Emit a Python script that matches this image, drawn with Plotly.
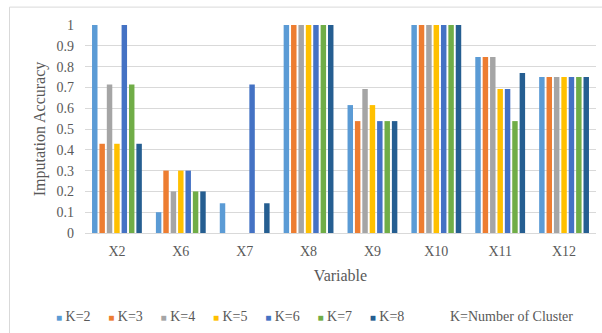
import plotly.graph_objects as go

variables = ["X2", "X6", "X7", "X8", "X9", "X10", "X11", "X12"]
series_names = ["K=2", "K=3", "K=4", "K=5", "K=6", "K=7", "K=8"]
k2 = [1.0, 0.10, 0.143, 1.0, 0.615, 1.0, 0.846, 0.75]
k3 = [0.429, 0.30, 0.0, 1.0, 0.538, 1.0, 0.846, 0.75]
k4 = [0.714, 0.20, 0.0, 1.0, 0.692, 1.0, 0.846, 0.75]
k5 = [0.429, 0.30, 0.0, 1.0, 0.615, 1.0, 0.692, 0.75]
k6 = [1.0, 0.30, 0.714, 1.0, 0.538, 1.0, 0.692, 0.75]
k7 = [0.714, 0.20, 0.0, 1.0, 0.538, 1.0, 0.538, 0.75]
k8 = [0.429, 0.20, 0.143, 1.0, 0.538, 1.0, 0.769, 0.75]
series_values = [k2, k3, k4, k5, k6, k7, k8]
colors = ["#5B9BD5", "#ED7D31", "#A5A5A5", "#FFC000", "#4472C4", "#70AD47", "#255E91"]
y_ticks = [0, 0.1, 0.2, 0.3, 0.4, 0.5, 0.6, 0.7, 0.8, 0.9, 1]
y_tick_labels = ["0", "0.1", "0.2", "0.3", "0.4", "0.5", "0.6", "0.7", "0.8", "0.9", "1"]

FONT = "Times New Roman, Liberation Serif, serif"
TXT = "#595959"

fig = go.Figure()
for name, vals, col in zip(series_names, series_values, colors):
    fig.add_trace(go.Bar(x=variables, y=vals, name=name, marker=dict(color=col, line=dict(width=0)),
                         showlegend=False))
    # legend-only entry: coloured square glyph followed by the series name
    label = f'<span style="color:{col};font-size:10px">■</span> {name}'
    fig.add_trace(go.Scatter(x=[None], y=[None], mode="markers", name=label,
                             marker=dict(size=1, color="rgba(0,0,0,0)"), showlegend=True))
# spacer legend entry so the last label is not clipped
fig.add_trace(go.Scatter(x=[None], y=[None], mode="markers", name=" ",
                         marker=dict(size=1, color="rgba(0,0,0,0)"), showlegend=True))

fig.update_layout(
    width=602, height=333,
    margin=dict(l=85, r=6, t=25, b=100),
    paper_bgcolor="white", plot_bgcolor="white",
    barmode="group", bargap=0.19, bargroupgap=0.26,
    font=dict(family=FONT, color=TXT, size=13),
    xaxis=dict(title=dict(text="Variable", font=dict(size=16, color=TXT, family=FONT), standoff=12),
               showline=True, linecolor="#D9D9D9", linewidth=1, showgrid=False,
               ticks="", tickfont=dict(size=14, color=TXT, family=FONT), ticklabelstandoff=5),
    yaxis=dict(title=dict(text="Imputation Accuracy", font=dict(size=16, color=TXT, family=FONT), standoff=6),
               range=[0, 1], tickvals=y_ticks, ticktext=y_tick_labels,
               showgrid=True, gridcolor="#D9D9D9", gridwidth=1, zeroline=False, showline=False,
               tickfont=dict(size=14, color=TXT, family=FONT), ticklabelstandoff=10),
    legend=dict(orientation="h", xref="container", yref="container",
                x=16 / 602, xanchor="left", y=1 - 316 / 333, yanchor="middle",
                entrywidth=7.3, entrywidthmode="pixels", itemwidth=30,
                font=dict(size=14, color=TXT, family=FONT), bgcolor="rgba(0,0,0,0)"),
    annotations=[dict(text="K=Number of Cluster", x=(448 - 85) / 511, y=(233 - 316) / 208,
                      xref="paper", yref="paper",
                      xanchor="left", yanchor="middle", showarrow=False,
                      font=dict(size=14, color=TXT, family=FONT))],
    shapes=[dict(type="rect", xref="paper", yref="paper", x0=-0.1477, x1=1.05, y0=-0.6, y1=1.086,
                 line=dict(color="#D9D9D9", width=1), fillcolor="rgba(0,0,0,0)", layer="below")],
)

fig.write_html("out.html")
